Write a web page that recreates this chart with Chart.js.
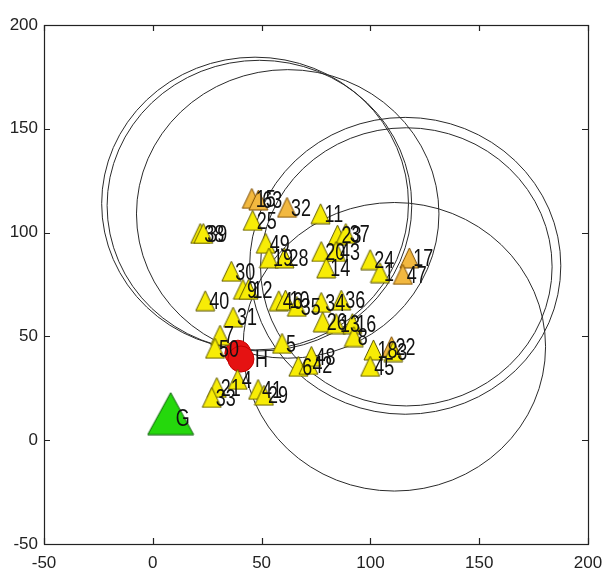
<!DOCTYPE html>
<html>
<head>
<meta charset="utf-8">
<script src="https://cdn.jsdelivr.net/npm/chart.js@4/dist/chart.umd.min.js"></script>
<style>
  html, body { margin: 0; padding: 0; background: #ffffff; }
  #wrap { width: 613px; height: 573px; }
</style>
</head>
<body>
<div id="wrap"><canvas id="c" width="613" height="573"></canvas></div>
<script>
// ---- axis ticks ----
const xTicks = [-50, 0, 50, 100, 150, 200];
const yTicks = [-50, 0, 50, 100, 150, 200];

// ---- yellow station markers ----
const yellowLabels = ['11','25','38','39','49','19','28','23','37','20','43','14','24','1','30','9','12','40','31','7','50','21','4','33','41','29','5','6','42','48','46','10','35','34','36','26','13','16','8','18','3','45'];
const yellowX = [77.1,45.9,21.8,23.2,51.9,53.4,60.5,84.9,88.7,77.4,84.2,79.7,99.9,104.4,36.1,41.4,44.0,24.1,36.9,30.9,28.6,29.4,39.0,27.1,48.4,51.1,59.4,66.9,71.5,72.9,57.9,61.0,66.2,77.4,86.6,78.1,84.2,91.7,92.4,101.4,110.5,99.9];
const yellowY = [109.1,105.9,99.6,99.6,94.9,87.8,87.8,98.8,99.6,90.9,90.9,83.0,87.0,80.7,81.4,72.7,72.7,67.2,59.3,50.6,44.3,25.4,29.3,20.6,24.5,21.7,46.7,35.6,36.5,40.4,67.2,67.5,64.5,66.4,67.5,57.0,56.2,56.2,49.9,43.5,42.7,35.6];

// ---- orange station markers ----
const orangeLabels = ['15','63','32','17','47','22'];
const orangeX = [45.5,48.5,61.7,117.9,114.9,109.7];
const orangeY = [116.5,115.7,112.2,87.8,79.9,45.1];

// ---- red H marker ----
const redLabels = ['', 'H'];
const redX = [39.1, 40.5];
const redY = [41.9, 39.1];

// ---- green G marker ----
const greenLabels = ['G'];
const greenX = [8.2];
const greenY = [12.8];

// ---- range circles ----
const circleX = [47, 49, 62, 116, 116.5, 111];
const circleY = [114, 113, 109, 84, 83.5, 45];
const circleR = [70.5, 70, 69.5, 71.5, 67, 69.5];

const FONT_FAMILY = "'Liberation Sans', Arial, sans-serif";

function pts(xs, ys, labels) {
  return xs.map((x, i) => ({ x: x, y: ys[i], lbl: labels[i] }));
}

// triangle marker image (like the reference '^' marker)
function triangleImage(w, h, fill, stroke) {
  const c = document.createElement('canvas');
  c.width = w + 2; c.height = h + 2;
  const g = c.getContext('2d');
  g.beginPath();
  g.moveTo(c.width / 2, 1);
  g.lineTo(c.width - 1, c.height - 1);
  g.lineTo(1, c.height - 1);
  g.closePath();
  g.fillStyle = fill;
  g.fill();
  g.strokeStyle = stroke;
  g.lineWidth = 1;
  g.stroke();
  return c;
}
const yellowTri = triangleImage(19, 20, '#f7ec06', '#5e5800');
const orangeTri = triangleImage(19, 20, '#f2b840', '#7a4a00');
const greenTri = triangleImage(46, 42, '#25d80c', '#0b5e08');

const circlesPlugin = {
  id: 'rangeCircles',
  beforeDatasetDraw(chart, args) {
    if (args.index !== 2) return;
    const xs = chart.scales.x, ys = chart.scales.y, ctx = chart.ctx;
    const a = chart.chartArea;
    ctx.save();
    ctx.beginPath();
    ctx.rect(a.left, a.top, a.right - a.left, a.bottom - a.top);
    ctx.clip();
    ctx.strokeStyle = '#2a2a2a';
    ctx.lineWidth = 1;
    for (let i = 0; i < circleX.length; i++) {
      const cx = xs.getPixelForValue(circleX[i]);
      const cy = ys.getPixelForValue(circleY[i]);
      const rx = Math.abs(xs.getPixelForValue(circleX[i] + circleR[i]) - cx);
      const ry = Math.abs(ys.getPixelForValue(circleY[i] + circleR[i]) - cy);
      ctx.beginPath();
      ctx.ellipse(cx, cy, rx, ry, 0, 0, Math.PI * 2);
      ctx.stroke();
    }
    ctx.restore();
  }
};

const framePlugin = {
  id: 'frame',
  afterDraw(chart) {
    const a = chart.chartArea, ctx = chart.ctx;
    const xs = chart.scales.x, ys = chart.scales.y;
    ctx.save();
    ctx.strokeStyle = '#222';
    ctx.lineWidth = 1.2;
    ctx.strokeRect(Math.round(a.left) + 0.5, Math.round(a.top) + 0.5, Math.round(a.right - a.left), Math.round(a.bottom - a.top));
    const L = 6;
    ctx.beginPath();
    xTicks.forEach(v => {
      const p = Math.round(xs.getPixelForValue(v)) + 0.5;
      ctx.moveTo(p, a.bottom); ctx.lineTo(p, a.bottom - L);
      ctx.moveTo(p, a.top); ctx.lineTo(p, a.top + L);
    });
    yTicks.forEach(v => {
      const p = Math.round(ys.getPixelForValue(v)) + 0.5;
      ctx.moveTo(a.left, p); ctx.lineTo(a.left + L, p);
      ctx.moveTo(a.right, p); ctx.lineTo(a.right - L, p);
    });
    ctx.stroke();
    ctx.restore();
  }
};

const labelsPlugin = {
  id: 'pointLabels',
  afterDatasetsDraw(chart) {
    const ctx = chart.ctx;
    ctx.save();
    ctx.fillStyle = '#111';
    ctx.font = '23px ' + FONT_FAMILY;
    ctx.textAlign = 'left';
    ctx.textBaseline = 'middle';
    chart.data.datasets.forEach((ds, di) => {
      const meta = chart.getDatasetMeta(di);
      meta.data.forEach((el, i) => {
        const d = ds.data[i];
        if (!d.lbl) return;
        const off = ds.labelOffset || 4;
        const dy = ds.labelDy || 2;
        ctx.save();
        ctx.translate(el.x + off, el.y + dy);
        ctx.scale(0.78, 1);
        ctx.fillText(d.lbl, 0, 0);
        ctx.restore();
      });
    });
    ctx.restore();
  }
};

new Chart(document.getElementById('c'), {
  type: 'scatter',
  data: {
    datasets: [
      { label: 'stations', data: pts(yellowX, yellowY, yellowLabels), pointStyle: yellowTri,
        pointRadius: 10 },
      { label: 'stations2', data: pts(orangeX, orangeY, orangeLabels), pointStyle: orangeTri,
        pointRadius: 10 },
      { label: 'H', data: pts(redX, redY, redLabels), pointStyle: 'circle',
        pointRadius: 13, backgroundColor: '#e51212', borderColor: '#c40000', borderWidth: 1, labelOffset: 14 },
      { label: 'G', data: pts(greenX, greenY, greenLabels), pointStyle: greenTri,
        pointRadius: 24, labelOffset: 5, labelDy: 6 }
    ]
  },
  options: {
    responsive: false,
    animation: false,
    events: [],
    layout: { padding: { top: 16, right: 14, left: 0, bottom: 0 } },
    plugins: { legend: { display: false }, tooltip: { enabled: false } },
    scales: {
      x: {
        type: 'linear', min: -50, max: 200,
        afterBuildTicks(s) { s.ticks = xTicks.map(v => ({ value: v })); },
        ticks: { font: { family: FONT_FAMILY, size: 17 }, color: '#222', padding: 9, maxRotation: 0, autoSkip: false },
        grid: { display: false, drawTicks: false },
        border: { display: false },
        afterFit(s) { s.height = 29; }
      },
      y: {
        type: 'linear', min: -50, max: 200,
        afterBuildTicks(s) { s.ticks = yTicks.map(v => ({ value: v })); },
        ticks: { font: { family: FONT_FAMILY, size: 17 }, color: '#222', padding: 6, autoSkip: false },
        grid: { display: false, drawTicks: false },
        border: { display: false },
        afterFit(s) { s.width = 44; }
      }
    }
  },
  plugins: [circlesPlugin, labelsPlugin, framePlugin]
});
</script>
</body>
</html>
